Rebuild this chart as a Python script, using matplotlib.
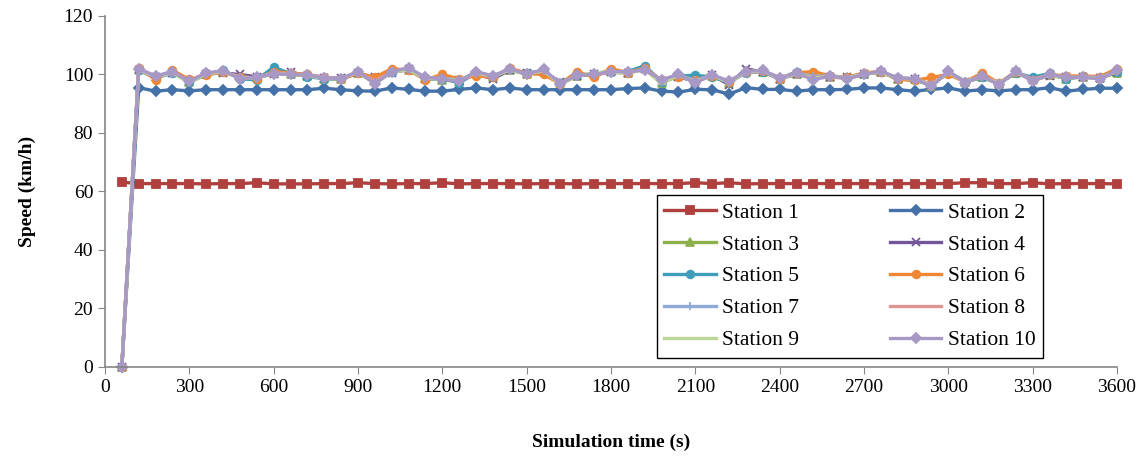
import numpy as np
import matplotlib.pyplot as plt

plt.rcParams['font.family'] = ['Liberation Serif', 'DejaVu Serif']

# time axis (s)
t = list(range(60, 3601, 60))

s1 = [63.2, 62.7, 62.7, 62.7, 62.7, 62.6, 62.7, 62.7, 63.0, 62.6, 62.6, 62.6, 62.7, 62.7, 63.0,
      62.7, 62.6, 62.7, 62.7, 63.0, 62.6, 62.7, 62.7, 62.7, 62.6, 62.7, 62.7, 62.6, 62.7, 62.7,
      62.7, 62.7, 62.7, 62.7, 63.0, 62.7, 63.0, 62.6, 62.7, 62.7, 62.7, 62.7, 62.7, 62.7, 62.7,
      62.6, 62.7, 62.7, 62.7, 62.7, 63.0, 63.0, 62.7, 62.7, 63.0, 62.6, 62.7, 62.7, 62.7, 62.6]
s2 = [0, 95.5, 94.3, 94.8, 94.4, 94.8, 94.8, 94.8, 94.8, 94.8, 94.8, 94.8, 95.3, 94.8, 94.4,
      94.3, 95.4, 94.9, 94.3, 94.3, 94.9, 95.4, 94.8, 95.4, 94.8, 94.8, 94.8, 94.8, 94.8, 94.8,
      95.2, 95.4, 94.3, 94.0, 94.9, 94.8, 93.3, 95.5, 94.9, 94.9, 94.3, 94.8, 94.8, 94.9, 95.4,
      95.4, 94.8, 94.3, 94.9, 95.4, 94.3, 94.8, 94.4, 94.8, 94.8, 95.5, 94.3, 94.9, 95.3, 95.3]
s3 = [0, 101.8, 99.0, 100.8, 97.3, 100.0, 101.0, 99.3, 98.8, 100.5, 100.2, 99.6, 98.6, 98.3, 100.6,
      98.5, 101.2, 101.5, 98.8, 98.2, 97.5, 100.6, 99.0, 101.6, 100.3, 101.0, 97.2, 99.5, 100.3, 101.2,
      100.5, 102.3, 97.0, 99.6, 99.2, 99.5, 97.0, 101.0, 101.0, 98.6, 100.2, 99.5, 99.0, 99.0, 100.2,
      100.8, 98.5, 98.3, 96.2, 100.8, 97.5, 99.0, 96.8, 100.6, 98.5, 99.8, 98.6, 99.3, 98.8, 100.6]
s4 = [0, 101.6, 99.3, 100.6, 97.8, 100.3, 100.5, 100.0, 99.2, 100.3, 100.8, 99.6, 98.8, 98.8, 100.4,
      99.0, 100.6, 101.8, 98.5, 98.8, 98.0, 100.2, 98.5, 101.5, 100.4, 100.8, 97.5, 99.6, 100.0, 100.8,
      100.6, 102.0, 97.8, 99.3, 97.5, 99.8, 96.5, 102.0, 100.8, 98.6, 100.0, 99.0, 99.0, 99.0, 100.2,
      100.8, 98.5, 98.3, 96.5, 100.6, 97.6, 99.5, 96.8, 100.8, 98.0, 99.6, 99.2, 99.0, 98.8, 100.8]
s5 = [0, 101.5, 98.8, 100.6, 97.5, 100.0, 101.5, 98.5, 98.2, 102.5, 100.3, 99.3, 98.5, 98.5, 100.8,
      97.8, 101.0, 101.8, 98.5, 98.6, 97.2, 100.4, 99.0, 101.8, 100.6, 101.2, 97.0, 99.8, 100.0, 101.0,
      101.0, 103.0, 97.5, 99.4, 99.8, 99.0, 97.5, 100.5, 101.0, 98.5, 101.0, 98.8, 99.5, 99.0, 100.0,
      101.0, 98.6, 98.0, 96.6, 100.5, 97.5, 99.0, 97.0, 100.6, 99.0, 100.4, 98.4, 99.4, 99.0, 100.8]
s6 = [0, 102.3, 98.2, 101.5, 98.3, 99.8, 100.8, 99.3, 98.6, 101.0, 100.5, 100.0, 99.0, 98.3, 100.5,
      99.0, 102.0, 101.5, 98.2, 100.0, 98.5, 99.6, 99.0, 102.3, 100.3, 100.0, 96.8, 101.0, 99.0, 102.0,
      100.6, 102.2, 98.0, 99.3, 98.0, 99.5, 97.5, 101.0, 101.2, 98.5, 100.6, 101.0, 99.5, 99.0, 100.6,
      101.0, 98.3, 98.0, 99.0, 100.0, 97.5, 100.5, 97.0, 101.0, 98.0, 100.0, 99.5, 99.5, 99.3, 102.0]
s7 = [0, 101.8, 99.0, 100.5, 97.5, 100.2, 101.0, 99.0, 98.8, 100.5, 100.0, 100.0, 99.0, 98.6, 100.8,
      97.5, 100.8, 101.6, 98.6, 98.8, 98.0, 100.6, 99.6, 101.6, 100.2, 101.2, 97.2, 99.6, 100.4, 100.8,
      100.5, 101.8, 98.0, 99.8, 98.0, 99.8, 97.5, 100.8, 101.0, 98.6, 100.4, 99.4, 99.5, 98.8, 100.2,
      100.8, 98.8, 98.6, 96.4, 100.8, 97.8, 99.3, 97.0, 100.8, 98.2, 100.0, 99.0, 99.2, 99.0, 101.0]
s8 = [0, 101.6, 99.2, 100.8, 97.8, 100.4, 100.8, 99.2, 98.8, 100.6, 100.2, 99.8, 99.0, 98.5, 100.6,
      98.0, 100.8, 101.8, 98.8, 98.5, 97.8, 100.4, 99.2, 101.8, 100.2, 101.3, 97.0, 99.6, 100.2, 100.6,
      100.8, 101.6, 97.8, 99.6, 97.6, 99.6, 97.8, 100.6, 101.2, 99.0, 100.2, 99.0, 99.3, 98.6, 100.0,
      101.0, 98.8, 98.4, 96.8, 100.6, 97.6, 99.2, 97.2, 100.6, 98.4, 99.8, 99.0, 99.2, 98.8, 101.0]
s9 = [0, 101.7, 99.4, 100.6, 97.2, 100.2, 101.0, 98.8, 98.9, 100.2, 100.0, 99.6, 98.6, 98.6, 100.8,
      96.8, 100.8, 101.6, 98.8, 98.4, 98.2, 100.6, 99.3, 101.6, 100.0, 101.4, 96.5, 99.6, 100.6, 100.8,
      100.4, 101.8, 96.8, 99.8, 97.4, 99.8, 97.2, 100.8, 101.4, 98.6, 100.2, 98.8, 99.4, 98.8, 100.2,
      100.8, 98.6, 98.6, 96.2, 100.8, 97.4, 99.4, 96.8, 101.0, 97.8, 99.8, 98.8, 99.0, 98.8, 101.2]
s10 = [0, 102.0, 99.5, 101.0, 97.7, 100.5, 101.3, 98.6, 99.0, 100.2, 100.0, 99.8, 98.8, 98.6, 101.0,
       96.8, 101.0, 102.3, 99.0, 98.5, 97.7, 101.0, 99.5, 102.0, 100.0, 101.8, 96.8, 99.8, 100.0, 101.0,
       101.0, 101.5, 98.2, 100.0, 97.1, 99.9, 97.7, 101.0, 101.5, 98.8, 100.5, 98.2, 99.5, 98.6, 100.0,
       101.2, 98.8, 98.6, 95.9, 101.2, 97.2, 99.5, 96.5, 101.2, 97.7, 100.0, 99.0, 99.0, 98.6, 101.5]

names = ['Station %d' % i for i in range(1, 11)]
series = [s1, s2, s3, s4, s5, s6, s7, s8, s9, s10]
colors = ['#B0403D', '#4472A8', '#8DB04A', '#71579A', '#3E9DB9', '#F08732',
          '#8FAAD6', '#DE9694', '#BDD597', '#A898C6']
markers = ['s', 'D', '^', 'x', 'o', 'o', '+', '_', '_', 'D']

fig = plt.figure(figsize=(11.46, 4.57), dpi=100)
ax = fig.add_axes([0.0916, 0.197, 0.8831, 0.768])

lines = []
for y, c, m, n in zip(series, colors, markers, names):
    l, = ax.plot(t, y, color=c, marker=m, markersize=5.5, markeredgewidth=1.3,
                 linewidth=2.4, label=n, clip_on=False)
    lines.append(l)

ax.set_xlim(0, 3600)
ax.set_ylim(0, 120)
ax.set_xticks(range(0, 3601, 300))
ax.set_yticks(range(0, 121, 20))
ax.tick_params(labelsize=14, length=5, color='#868686', direction='out')
for side in ['top', 'right']:
    ax.spines[side].set_visible(False)
for side in ['left', 'bottom']:
    ax.spines[side].set_color('#868686')
    ax.spines[side].set_linewidth(1.2)

ax.set_xlabel('Simulation time (s)', fontsize=14, fontweight='bold', labelpad=27)
ax.set_ylabel('Speed (km/h)', fontsize=14, fontweight='bold', labelpad=20)

order = [0, 2, 4, 6, 8, 1, 3, 5, 7, 9]
leg = ax.legend([lines[i] for i in order], [names[i] for i in order], ncol=2,
                loc='lower left', bbox_to_anchor=(0.545, 0.026, 0.382, 0.473),
                mode='expand', borderaxespad=0, fontsize=15.5, fancybox=False,
                framealpha=1, edgecolor='black', handlelength=2.4, labelspacing=0.55,
                columnspacing=1.0, borderpad=0.35, handletextpad=0.3)
leg.get_frame().set_linewidth(1.0)

fig.savefig('out.png', dpi=100)
